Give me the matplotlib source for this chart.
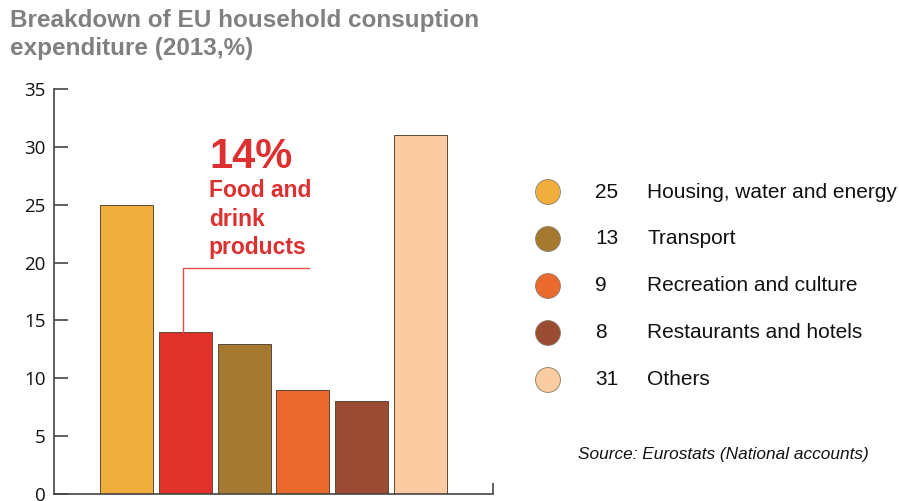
import matplotlib.pyplot as plt

plt.rcParams['font.family'] = ['Liberation Sans', 'DejaVu Sans']

# bar order on the chart
bar_names = ["Housing, water and energy", "Food and drink products", "Transport",
             "Recreation and culture", "Restaurants and hotels", "Others"]
bar_values = [25, 14, 13, 9, 8, 31]
bar_colors = ["#F0AE3C", "#E0322B", "#A57A30", "#E96A2C", "#9A4B31", "#FBCBA1"]

# legend entries (food is annotated on the chart instead)
legend_names = ["Housing, water and energy", "Transport", "Recreation and culture",
                "Restaurants and hotels", "Others"]
legend_values = [25, 13, 9, 8, 31]
legend_colors = ["#F0AE3C", "#A57A30", "#E96A2C", "#9A4B31", "#FBCBA1"]

y_ticks = [0, 5, 10, 15, 20, 25, 30, 35]

fig = plt.figure(figsize=(8.99, 5.01), dpi=100)
ax = fig.add_axes([54 / 899, 1 - 494 / 501, (493 - 54) / 899, (494 - 89) / 501])

x = list(range(len(bar_values)))
ax.bar(x, bar_values, width=0.9, color=bar_colors, edgecolor="#5a4a3a", linewidth=0.7)

ax.set_ylim(0, 35)
ax.set_xlim(-1.24, 6.24)
ax.set_yticks(y_ticks)
ax.set_yticklabels([str(t) for t in y_ticks], family=['Open Sans', 'DejaVu Sans'])
ax.tick_params(axis='y', direction='in', length=10, width=1.2, colors="#444444",
               labelsize=13.5, labelcolor="#111111", pad=6)
ax.set_xticks([6.24])
ax.set_xticklabels([""])
ax.tick_params(axis='x', direction='in', length=8, width=1.2, colors="#444444")
for s in ["top", "right"]:
    ax.spines[s].set_visible(False)
for s in ["left", "bottom"]:
    ax.spines[s].set_color("#444444")
    ax.spines[s].set_linewidth(1.2)

# callout for the food bar
food_i = bar_names.index("Food and drink products")
food_v = bar_values[food_i]
ax.plot([food_i - 0.04, food_i - 0.04, food_i + 2.1], [food_v, 19.5, 19.5],
        color="#E2504A", linewidth=1)
ax.text(food_i + 0.4, 29.1, "%d%%" % food_v, color="#DD3030", fontsize=30,
        fontweight="bold", va="center", ha="left")
ax.text(food_i + 0.4, 27.2, "Food and\ndrink\nproducts", color="#DD3030",
        fontsize=16.5, fontweight="bold", va="top", ha="left", linespacing=1.3)

# title
fig.text(10 / 899, 1 - 9 / 501, "Breakdown of EU household consuption\nexpenditure (2013,%)",
         color="#808080", fontsize=17.5, fontweight="bold", va="top", ha="left",
         linespacing=1.25)

# legend
lax = fig.add_axes([520 / 899, 1 - 470 / 501, 379 / 899, 300 / 501])
lax.set_xlim(520, 899)
lax.set_ylim(470, 170)
lax.axis("off")
rows = [192 + 47 * i for i in range(len(legend_values))]
lax.scatter([548] * len(rows), rows, s=320, c=legend_colors, edgecolors="#8a7a6a",
            linewidths=0.6)
for r, v, n in zip(rows, legend_values, legend_names):
    lax.text(595, r, str(v), fontsize=15, va="center", ha="left", color="#111111")
    lax.text(647, r, n, fontsize=15, va="center", ha="left", color="#111111")
lax.text(578, 455, "Source: Eurostats (National accounts)", fontsize=12.4,
         style="italic", va="center", ha="left", color="#111111")

fig.savefig("out.png", dpi=100, facecolor="white")
